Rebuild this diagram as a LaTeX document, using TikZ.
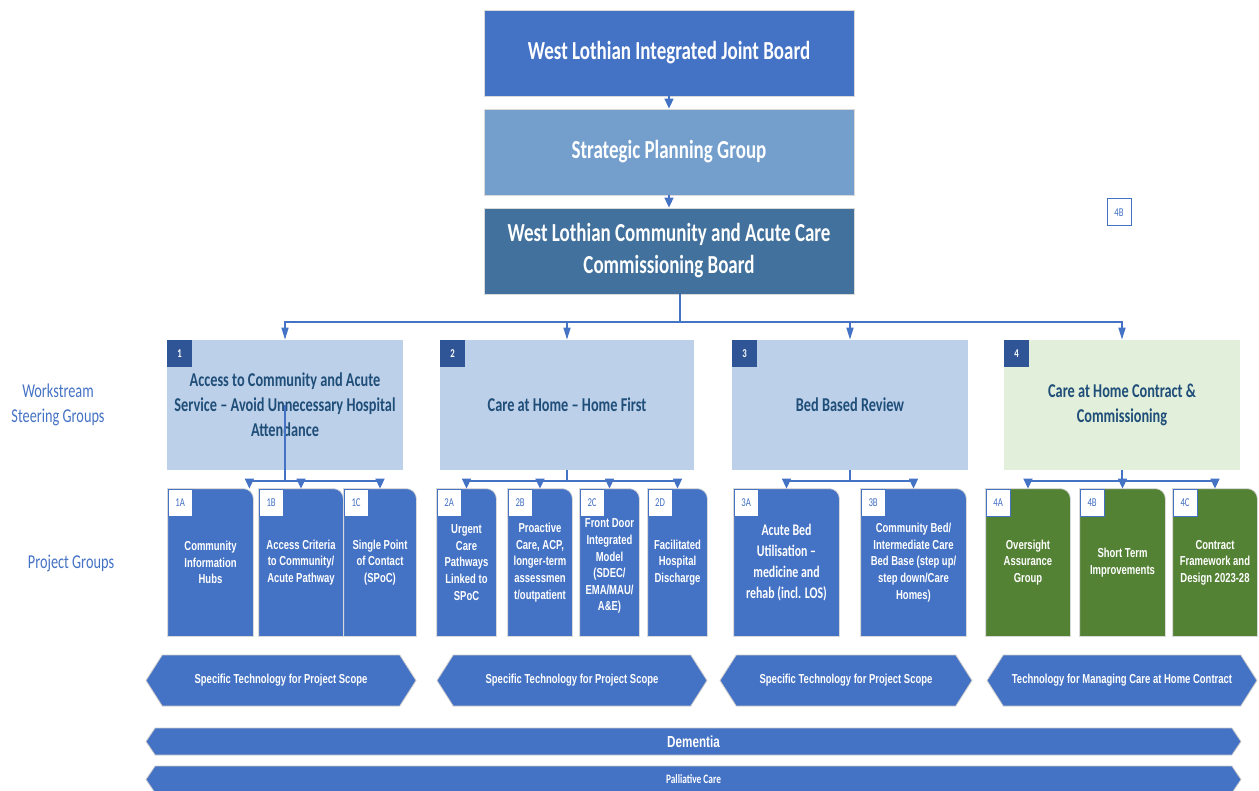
\documentclass[tikz,border=0pt]{standalone}
\usepackage{fontspec}
\setmainfont{Carlito}
\newfontfamily\headfont[FakeStretch=0.73]{Carlito}
\newfontfamily\narrowfont[FakeStretch=0.73]{Liberation Sans}
\usetikzlibrary{arrows.meta,shapes.symbols,backgrounds}

\definecolor{ijbblue}{RGB}{68,114,196}
\definecolor{spgblue}{RGB}{116,159,205}
\definecolor{cabblue}{RGB}{65,113,156}
\definecolor{wsblue}{RGB}{189,208,233}
\definecolor{wsgreen}{RGB}{226,239,218}
\definecolor{numblue}{RGB}{47,85,151}
\definecolor{wstext}{RGB}{31,78,121}
\definecolor{projgreen}{RGB}{84,130,53}

\tikzset{
  board/.style={draw=black!15, line width=0.4pt, minimum width=185pt, minimum height=43pt, inner sep=0pt, align=center, text=white, font=\headfont\bfseries\fontsize{13}{16}\selectfont},
  wsbox/.style={fill=wsblue, minimum width=118pt, minimum height=65pt, inner sep=0pt, align=center, text=wstext, font=\headfont\bfseries\fontsize{9.8}{12.5}\selectfont},
  wsnum/.style={fill=numblue, anchor=north west, minimum width=12.5pt, minimum height=13.5pt, inner sep=0pt, text=white, font=\headfont\bfseries\fontsize{6}{7}\selectfont},
  proj/.style={minimum height=73.5pt, inner sep=0pt, align=center, text=white, font=\narrowfont\bfseries\fontsize{6.5}{8.3}\selectfont},
  projnum/.style={fill=white, draw=ijbblue, line width=0.5pt, anchor=north west, minimum width=12pt, minimum height=13.5pt, inner sep=0pt, text=ijbblue, font=\headfont\fontsize{6}{7}\selectfont},
  tech/.style={signal, signal to=west and east, signal pointer angle=115, fill=ijbblue, draw=black!20, line width=0.4pt, minimum height=25.5pt, inner sep=0pt, text=white, font=\narrowfont\bfseries\fontsize{6.5}{8}\selectfont},
  band/.style={signal, signal to=west and east, signal pointer angle=112, fill=ijbblue, draw=black!20, line width=0.4pt, minimum width=547.5pt, minimum height=13.5pt, inner sep=0pt, text=white},
  side/.style={align=center, text=ijbblue, font=\headfont\fontsize{9.8}{12.5}\selectfont},
  link/.style={draw=ijbblue, line width=0.8pt},
  conn/.style={link, -{Triangle[width=4.5pt,length=5pt]}},
  wsconn/.style={link, -{Triangle[width=3.5pt,length=6pt]}},
}

\begin{document}
\begin{tikzpicture}[x=0.5pt, y=-0.5pt]
\useasboundingbox (0,0) rectangle (1259,791);

% boards
\node[board, fill=ijbblue] (ijb) at (669,53) {West Lothian Integrated Joint Board};
\node[board, fill=spgblue] (spg) at (669,152) {Strategic Planning Group};
\node[board, fill=cabblue] (cab) at (669,251) {West Lothian Community and Acute Care\\Commissioning Board};
\draw[conn] (ijb) -- (spg);
\draw[conn] (spg) -- (cab);

\node[projnum, anchor=center] (stray) at (1119,212.5) {4B};

% workstream steering groups
\node[side] (wslab) at (58,405) {Workstream\\Steering Groups};
\node[wsbox] (ws1) at (285,405) {Access to Community and Acute\\Service – Avoid Unnecessary Hospital\\Attendance};
\node[wsbox, minimum width=127pt] (ws2) at (567,405) {Care at Home – Home First};
\node[wsbox] (ws3) at (850,405) {Bed Based Review};
\node[wsbox, fill=wsgreen] (ws4) at (1122,405) {Care at Home Contract \&\\Commissioning};
\node[wsnum] (n1) at (ws1.north west) {1};
\node[wsnum] (n2) at (ws2.north west) {2};
\node[wsnum] (n3) at (ws3.north west) {3};
\node[wsnum] (n4) at (ws4.north west) {4};

\coordinate (bus0) at (680,322);
\draw[link] (cab.south -| bus0) -- (bus0);
\foreach \w in {ws1,ws2,ws3,ws4}
  \draw[wsconn] (bus0) -| (\w.north);

% project groups
\node[side] (pglab) at (71,563) {Project Groups};
\node[proj, minimum width=42.5pt] (p1a) at (210.5,562.5) {Community\\Information\\Hubs};
\node[proj, minimum width=42pt] (p1b) at (301,562.5) {Access Criteria\\to Community/\\Acute Pathway};
\node[proj, minimum width=36pt] (p1c) at (380,562.5) {Single Point\\of Contact\\(SPoC)};
\node[proj, minimum width=29.5pt] (p2a) at (466.5,562.5) {Urgent\\Care\\Pathways\\Linked to\\SPoC};
\node[proj, minimum width=32pt] (p2b) at (540,562.5) {Proactive\\Care, ACP,\\longer-term\\assessmen\\t/outpatient};
\node[proj, minimum width=29.5pt] (p2c) at (609.5,562.5) {\mbox{}\\Front Door\\Integrated\\Model\\(SDEC/\\EMA/MAU/\\A\&E)};
\node[proj, minimum width=29.5pt] (p2d) at (677.5,562.5) {Facilitated\\Hospital\\Discharge};
\node[proj, minimum width=52.5pt, font=\headfont\bfseries\fontsize{8.1}{10.5}\selectfont] (p3a) at (786.5,562.5) {Acute Bed\\Utilisation –\\medicine and\\rehab (incl. LOS)};
\node[proj, minimum width=52.5pt] (p3b) at (913.5,562.5) {Community Bed/\\Intermediate Care\\Bed Base (step up/\\step down/Care\\Homes)};
\node[proj, minimum width=42pt] (p4a) at (1028,562.5) {Oversight\\Assurance\\Group};
\node[proj, minimum width=42.5pt] (p4b) at (1122.5,562.5) {Short Term\\Improvements};
\node[proj, minimum width=42pt] (p4c) at (1215,562.5) {Contract\\Framework and\\Design 2023-28};

\begin{pgfonlayer}{background}
\foreach \p/\c in {p1a/ijbblue,p1b/ijbblue,p1c/ijbblue,p2a/ijbblue,p2b/ijbblue,p2c/ijbblue,p2d/ijbblue,p3a/ijbblue,p3b/ijbblue,p4a/projgreen,p4b/projgreen,p4c/projgreen}
  \filldraw[fill=\c, draw=black!15, line width=0.4pt] (\p.south west) -- (\p.north west) -- ([xshift=-5pt]\p.north east) arc[start angle=90, end angle=0, radius=5pt] -- (\p.south east) -- cycle;
\end{pgfonlayer}

\foreach \p/\t in {p1a/1A,p1b/1B,p1c/1C,p2a/2A,p2b/2B,p2c/2C,p2d/2D,p3a/3A,p3b/3B,p4a/4A,p4b/4B,p4c/4C}
  \node[projnum] (l\p) at (\p.north west) {\t};

\coordinate (bus1) at (ws1.center |- 0,481);
\draw[link] (ws1.center) -- (bus1);
\draw[conn] (bus1) -| ([xshift=-2pt]p1a.north east);
\draw[conn] (bus1) -| (p1b.north);
\draw[conn] (bus1) -| (p1c.north);

\coordinate (bus2) at (ws2.south |- 0,481);
\draw[link] (ws2.south) -- (bus2);
\foreach \p in {p2a,p2b,p2c,p2d}
  \draw[conn] (bus2) -| (\p.north);

\coordinate (bus3) at (ws3.south |- 0,481);
\draw[link] (ws3.south) -- (bus3);
\foreach \p in {p3a,p3b}
  \draw[conn] (bus3) -| (\p.north);

\coordinate (bus4) at (ws4.south |- 0,481);
\draw[link] (ws4.south) -- (bus4);
\foreach \p in {p4a,p4b,p4c}
  \draw[conn] (bus4) -| (\p.north);

% technology and themes
\node[tech, minimum width=135pt] (t1) at (281,680.5) {Specific Technology for Project Scope};
\node[tech, minimum width=135pt] (t2) at (572,680.5) {Specific Technology for Project Scope};
\node[tech, minimum width=126pt] (t3) at (846,680.5) {Specific Technology for Project Scope};
\node[tech, minimum width=135pt] (t4) at (1122,680.5) {Technology for Managing Care at Home Contract};
\node[band, font=\narrowfont\bfseries\fontsize{8}{9}\selectfont] (dem) at (693.5,741.5) {Dementia};
\node[band, font=\headfont\bfseries\fontsize{6.4}{7}\selectfont] (pal) at (693.5,779.5) {Palliative Care};
\end{tikzpicture}
\end{document}
